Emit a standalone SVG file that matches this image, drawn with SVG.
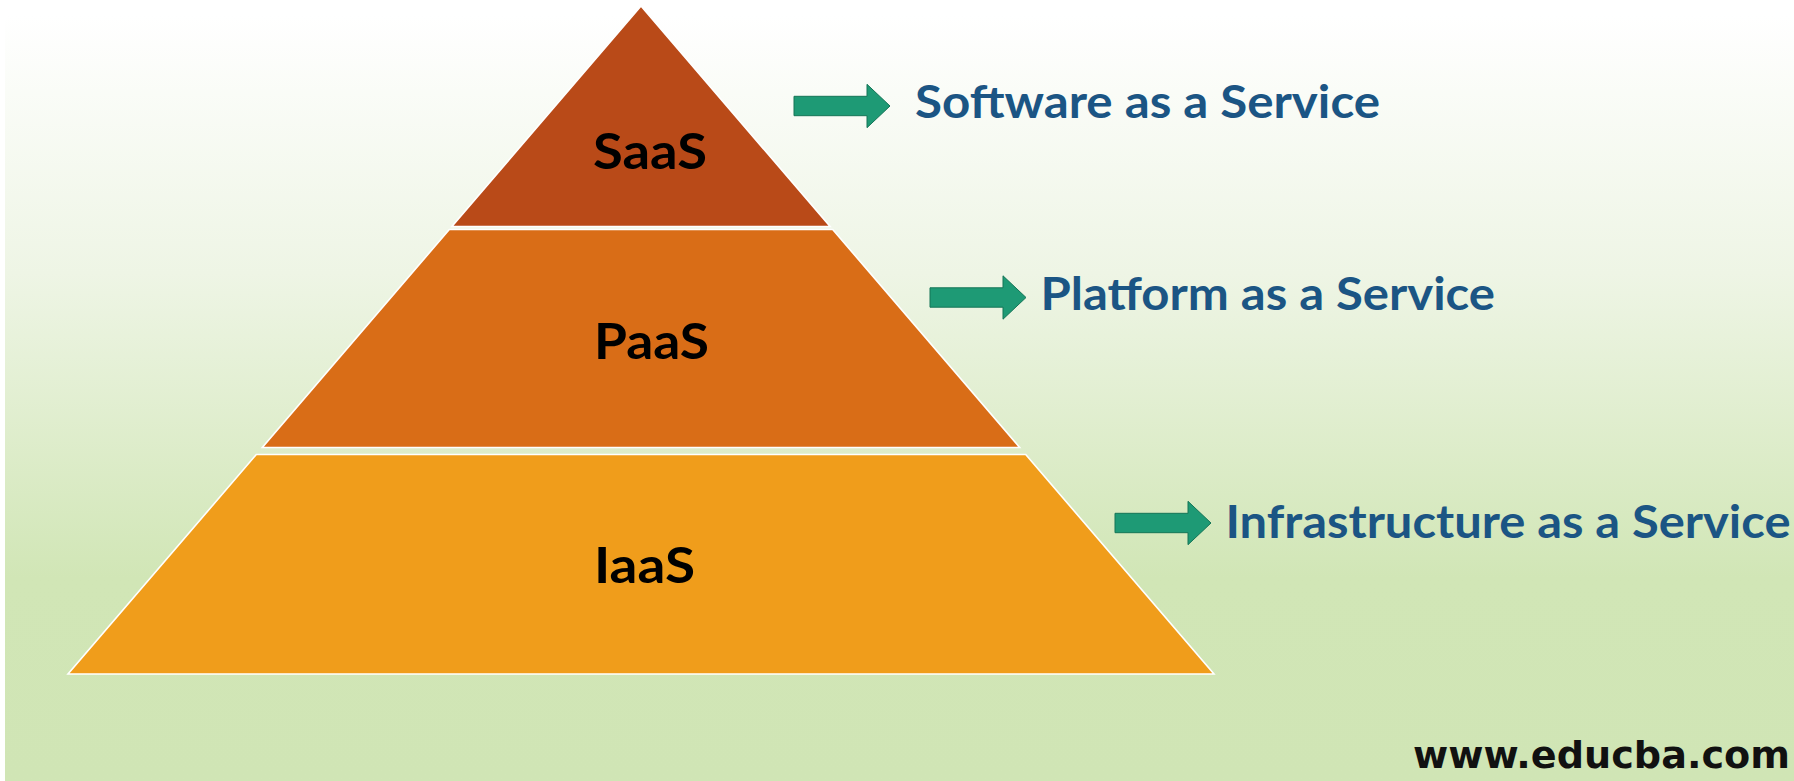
<svg xmlns="http://www.w3.org/2000/svg" width="1794" height="781" viewBox="0 0 1794 781">
  <defs>
    <linearGradient id="bg" x1="0" y1="0" x2="0" y2="1">
      <stop offset="0.02" stop-color="#ffffff"/>
      <stop offset="0.35" stop-color="#eef5e5"/>
      <stop offset="0.74" stop-color="#d1e6b6"/>
      <stop offset="1" stop-color="#d0e5b5"/>
    </linearGradient>
    <path id="arrowShape" d="M0,-9.7 H73 V-21.7 L96,0 L73,21.7 V9.7 H0 Z"/>
  </defs>
  <style>
    .tier { stroke: #ffffff; stroke-width: 1.6; stroke-linejoin: miter; }
    .tierLabel { font-family: Lato, "Open Sans", "Liberation Sans", sans-serif; font-weight: 700; font-size: 50px; fill: #000000; }
    .desc { font-family: Lato, "Open Sans", "Liberation Sans", sans-serif; font-weight: 700; font-size: 45px; fill: #1b5584; }
    .arrow { fill: #1e9a75; stroke: #157557; stroke-width: 1; }
    .wm { font-family: "DejaVu Sans", Verdana, sans-serif; font-weight: 700; font-size: 38px; fill: #111111; }
  </style>

  <rect x="0" y="0" width="1794" height="781" fill="url(#bg)"/>
  <rect x="0" y="0" width="5" height="781" fill="#ffffff"/>

  <g id="saas">
    <polygon class="tier" fill="#b94a18" points="641,6 830.1,226.5 451.9,226.5"/>
    <text class="tierLabel" x="593" y="169" textLength="114" lengthAdjust="spacingAndGlyphs">SaaS</text>
  </g>
  <g id="paas">
    <polygon class="tier" fill="#d96d17" points="449.3,229.5 832.7,229.5 1019.7,447.5 262.3,447.5"/>
    <text class="tierLabel" x="594" y="358.5" textLength="115" lengthAdjust="spacingAndGlyphs">PaaS</text>
  </g>
  <g id="iaas">
    <polygon class="tier" fill="#f09d1b" points="256.3,454.5 1025.7,454.5 1214,674 68,674"/>
    <text class="tierLabel" x="594" y="582.5" textLength="101" lengthAdjust="spacingAndGlyphs">IaaS</text>
  </g>

  <g id="connectors">
    <use href="#arrowShape" class="arrow" transform="translate(794,106)"/>
    <use href="#arrowShape" class="arrow" transform="translate(930,297.5)"/>
    <use href="#arrowShape" class="arrow" transform="translate(1115,523)"/>
  </g>

  <g id="label-saas">
    <text class="desc" x="915" y="118.3" textLength="465" lengthAdjust="spacingAndGlyphs">Software as a Service</text>
  </g>
  <g id="label-paas">
    <text class="desc" x="1040.5" y="310" textLength="454.5" lengthAdjust="spacingAndGlyphs">Platform as a Service</text>
  </g>
  <g id="label-iaas">
    <text class="desc" x="1225.5" y="538.3" textLength="565" lengthAdjust="spacingAndGlyphs">Infrastructure as a Service</text>
  </g>

  <g id="watermark">
    <text class="wm" x="1413" y="768" textLength="377" lengthAdjust="spacingAndGlyphs">www.educba.com</text>
  </g>
</svg>
